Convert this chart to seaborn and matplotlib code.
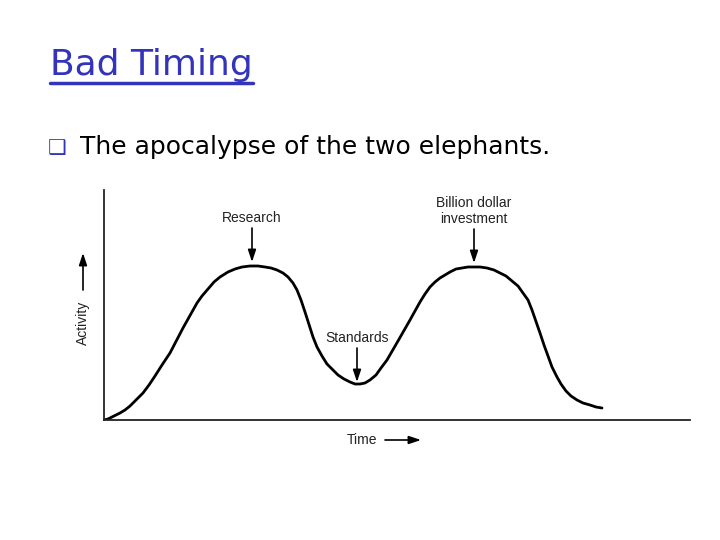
import matplotlib
matplotlib.use("Agg")
import matplotlib.pyplot as plt
import seaborn as sns
import pandas as pd

# Curve (time units, activity units)
time = [0, 4, 8, 12, 16, 21, 26, 32, 39, 45,
        51, 58, 66, 79, 93, 98, 104, 110, 116, 124,
        131, 138, 146, 154, 161, 167, 173, 179, 184, 189,
        193, 197, 201, 209, 213, 218, 223, 229, 234, 240,
        246, 251, 256, 261, 266, 272, 277, 283, 294, 306,
        316, 321, 326, 331, 336, 341, 346, 352, 358, 364,
        369, 376, 383, 390, 396, 402, 408, 414, 419, 424,
        428, 436, 440, 444, 448, 453, 457, 462, 467, 473,
        479, 486, 492, 498]
activity = [0, 1, 3, 5, 7, 10, 14, 20, 27, 35,
            44, 55, 67, 92, 117, 124, 131, 138, 143, 148,
            151, 153, 154, 154, 153, 152, 150, 147, 143, 137,
            130, 120, 108, 83, 73, 64, 56, 50, 45, 41,
            38, 36, 36, 37, 40, 45, 52, 60, 79, 100,
            118, 126, 133, 138, 142, 145, 148, 151, 152, 153,
            153, 153, 152, 150, 147, 144, 139, 134, 127, 120,
            110, 87, 75, 64, 53, 43, 36, 29, 24, 20,
            17, 15, 13, 12]

labels = ["Research", "Standards", "Billion dollar\ninvestment"]
label_x = [148, 253, 370]
label_tip = [158, 38, 157]

sns.set_theme(style="white")
plt.rcParams['font.family'] = ['Liberation Sans', 'DejaVu Sans']

fig = plt.figure(figsize=(7.2, 5.4), dpi=100)
ax = fig.add_axes([104/720, 1-420/540, (690-104)/720, (420-190)/540])

df = pd.DataFrame({"Time": time, "Activity": activity})
sns.lineplot(data=df, x="Time", y="Activity", ax=ax, color="black", linewidth=2.0,
             solid_joinstyle="round", solid_capstyle="round")

ax.set_xlim(0, 586)
ax.set_ylim(0, 230)
ax.set_xticks([])
ax.set_yticks([])
ax.set_xlabel("")
ax.set_ylabel("")
for s in ["top", "right"]:
    ax.spines[s].set_visible(False)
for s in ["left", "bottom"]:
    ax.spines[s].set_color("#222222")
    ax.spines[s].set_linewidth(1.3)

arrowprops = dict(arrowstyle="-|>,head_length=0.6,head_width=0.2", color="black", lw=1.2,
                  shrinkA=0, shrinkB=0)
for lab, x, tip in zip(labels, label_x, label_tip):
    ax.annotate("", xy=(x, tip), xytext=(x, tip + 34), arrowprops=arrowprops)
    ax.text(x, tip + 37, lab, ha="center", va="bottom", fontsize=10, color="#222222",
            linespacing=1.15)

# axis labels with arrows
ax.text(-21, 97, "Activity", rotation=90, ha="center", va="center", fontsize=10,
        color="#222222", clip_on=False)
ax.annotate("", xy=(-21, 167), xytext=(-21, 130), arrowprops=arrowprops,
            annotation_clip=False)
ax.text(258, -20, "Time", ha="center", va="center", fontsize=10, color="#222222",
        clip_on=False)
ax.annotate("", xy=(317, -20), xytext=(281, -20), arrowprops=arrowprops,
            annotation_clip=False)

# slide title and bullet
fig.text(50/720, 1-65/540, "Bad Timing", fontsize=26, color="#3333bb",
         ha="left", va="center", family="DejaVu Sans")
fig.add_artist(plt.Line2D([50/720, 253/720], [1-83/540, 1-83/540], color="#3333bb",
                          lw=2.5, transform=fig.transFigure))
fig.text(48/720, 1-148/540, "\u2751", fontsize=15, color="#3333bb",
         ha="left", va="center", family="DejaVu Sans")
fig.text(80/720, 1-147/540, "The apocalypse of the two elephants.", fontsize=18,
         color="black", ha="left", va="center", family="DejaVu Sans")

fig.savefig("out.png", dpi=100)
